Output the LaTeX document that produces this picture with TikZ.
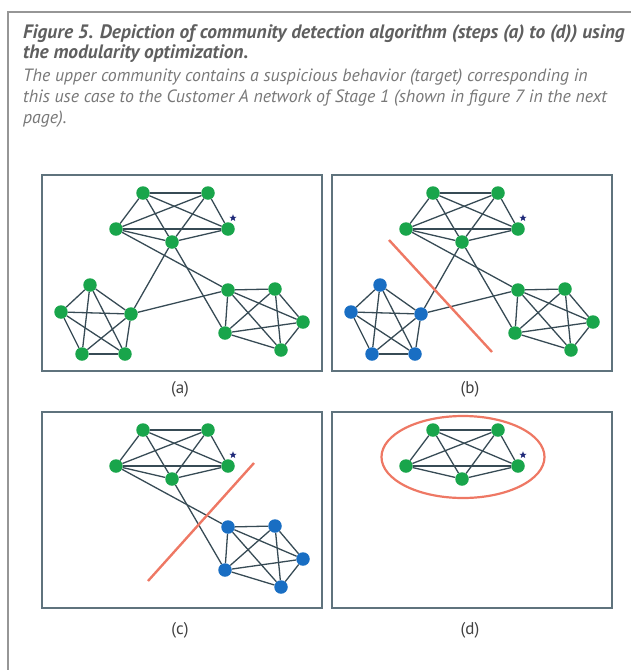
\documentclass[tikz,border=0pt]{standalone}
\usepackage{fontspec}
\setmainfont{PT Sans}
\usetikzlibrary{shapes.geometric}

\definecolor{framegray}{RGB}{150,150,150}
\definecolor{titlegray}{RGB}{95,95,95}
\definecolor{textgray}{RGB}{120,120,120}
\definecolor{boxline}{RGB}{95,115,125}
\definecolor{edgecol}{RGB}{55,75,85}
\definecolor{dotgreen}{RGB}{25,165,75}
\definecolor{dotblue}{RGB}{25,110,195}
\definecolor{cutred}{RGB}{238,120,100}
\definecolor{starblue}{RGB}{30,40,120}

\tikzset{
  dot/.style={circle, inner sep=0pt, minimum size=13.5pt},
  greendot/.style={dot, fill=dotgreen},
  bluedot/.style={dot, fill=dotblue},
  target/.style={star, star points=5, star point ratio=2.4, inner sep=0pt, minimum size=7.5pt, fill=starblue},
  edge/.style={edgecol, line width=1.3pt},
  panelbox/.style={draw=boxline, line width=1.6pt},
  cut/.style={cutred, line width=2.4pt},
  steplabel/.style={font=\fontsize{17}{20}\selectfont, text=black!75},
  captitle/.style={anchor=base west, inner sep=0pt, text=titlegray, font=\fontsize{19.4}{22}\selectfont\bfseries\itshape},
  captext/.style={anchor=base west, inner sep=0pt, text=textgray, font=\fontsize{17.8}{21}\selectfont\itshape},
}

% complete graph on the five nodes #11 ... #15
\newcommand{\kfive}[1]{%
  \foreach \i/\j in {1/2,1/3,1/4,1/5,2/3,2/4,2/5,3/4,3/5,4/5}
    \draw[edge] (#1\i) -- (#1\j);%
}

% upper community with the target
\newcommand{\uppernodes}[1]{%
  \node[greendot] (#1t1) at (101,18) {};
  \node[greendot] (#1t2) at (166,18) {};
  \node[greendot] (#1t3) at (74,54) {};
  \node[greendot] (#1t4) at (186,54) {};
  \node[greendot] (#1t5) at (130,67) {};
  \node[target] (#1star) at (191,43) {};
}

% lower left community
\newcommand{\leftnodes}[2]{%
  \node[#2] (#1l1) at (48,110) {};
  \node[#2] (#1l2) at (19,137) {};
  \node[#2] (#1l3) at (89,139) {};
  \node[#2] (#1l4) at (40,179) {};
  \node[#2] (#1l5) at (83,179) {};
}

% lower right community
\newcommand{\rightnodes}[2]{%
  \node[#2] (#1r1) at (186,115) {};
  \node[#2] (#1r2) at (233,114) {};
  \node[#2] (#1r3) at (261,147) {};
  \node[#2] (#1r4) at (183,158) {};
  \node[#2] (#1r5) at (239,175) {};
}

\begin{document}
\begin{tikzpicture}[x=1pt, y=-1pt]
  \useasboundingbox (0,0) rectangle (631,670);

  % outer frame
  \draw[framegray, line width=1.3pt] (8,670) -- (8,12) -- (631,12);

  % caption
  \node[captitle] (title1) at (23,38) {Figure 5. Depiction of community detection algorithm (steps (a) to (d)) using};
  \node[captitle] (title2) at (23,58) {the modularity optimization.};
  \node[captext] (body1) at (23,81) {The upper community contains a suspicious behavior (target) corresponding in};
  \node[captext] (body2) at (23,102) {this use case to the Customer A network of Stage 1 (shown in figure 7 in the next};
  \node[captext] (body3) at (23,123) {page).};

  % Panel (a)
  \begin{scope}[shift={(42,175)}]
    \draw[panelbox] (0,0) rectangle (280,196);
    \uppernodes{a}
    \leftnodes{a}{greendot}
    \rightnodes{a}{greendot}
    \kfive{at} \kfive{al} \kfive{ar}
    \draw[edge] (at5) -- (al3);
    \draw[edge] (at3) -- (ar1);
    \draw[edge] (at5) -- (ar4);
    \draw[edge] (al3) -- (ar1);
    \node[steplabel] (labela) at (138,214) {(a)};
  \end{scope}

  % Panel (b)
  \begin{scope}[shift={(332,175)}]
    \draw[panelbox] (0,0) rectangle (280,196);
    \uppernodes{b}
    \leftnodes{b}{bluedot}
    \rightnodes{b}{greendot}
    \kfive{bt} \kfive{bl} \kfive{br}
    \draw[edge] (bt5) -- (bl3);
    \draw[edge] (bt3) -- (br1);
    \draw[edge] (bt5) -- (br4);
    \draw[edge] (bl3) -- (br1);
    \coordinate (bcut1) at (57,65);
    \coordinate (bcut2) at (160,177);
    \draw[cut] (bcut1) -- (bcut2);
    \node[steplabel] (labelb) at (138,214) {(b)};
  \end{scope}

  % Panel (c)
  \begin{scope}[shift={(42,412)}]
    \draw[panelbox] (0,0) rectangle (280,196);
    \uppernodes{c}
    \rightnodes{c}{bluedot}
    \kfive{ct} \kfive{cr}
    \draw[edge] (ct3) -- (cr1);
    \draw[edge] (ct5) -- (cr4);
    \coordinate (ccut1) at (212,51);
    \coordinate (ccut2) at (106,169);
    \draw[cut] (ccut1) -- (ccut2);
    \node[steplabel] (labelc) at (138,218) {(c)};
  \end{scope}

  % Panel (d)
  \begin{scope}[shift={(332,412)}]
    \draw[panelbox] (0,0) rectangle (280,196);
    \uppernodes{d}
    \kfive{dt}
    \node[draw=cutred, line width=2.2pt, ellipse, minimum width=163pt, minimum height=82pt] (target) at (131,45) {};
    \node[steplabel] (labeld) at (138,218) {(d)};
  \end{scope}
\end{tikzpicture}
\end{document}
